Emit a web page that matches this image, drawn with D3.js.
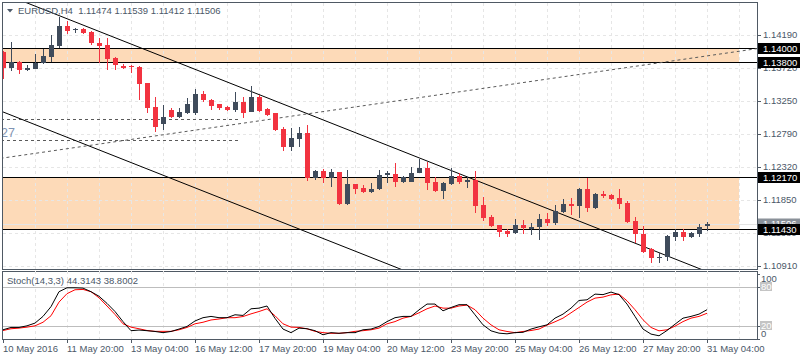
<!DOCTYPE html>
<html><head><meta charset="utf-8">
<script src="https://cdn.jsdelivr.net/npm/d3@7"></script>
<style>body{margin:0;background:#fff}svg{display:block;font-family:"Liberation Sans",Arial,sans-serif}</style>
</head><body><svg id="c" width="800" height="360"></svg>
<script>
// ---------- DATA ----------
const symbolTitle = "EURUSD,H4";
const lastOHLC = ["1.11474","1.11539","1.11412","1.11506"];
const opens  = [1.13949,1.13721,1.13807,1.13693,1.13707,1.13792,1.13878,1.14034,1.14318,1.14254,1.14275,1.14233,1.14076,1.14048,1.13863,1.13750,1.13743,1.13736,1.13508,1.13168,1.12926,1.13125,1.13026,1.13082,1.13082,1.13352,1.13267,1.13210,1.13168,1.13125,1.13239,1.13097,1.13310,1.13139,1.13082,1.12855,1.12600,1.12713,1.12798,1.12159,1.12259,1.12159,1.12245,1.11790,1.12074,1.12017,1.11961,1.12003,1.12202,1.12216,1.12103,1.12103,1.12230,1.12301,1.12103,1.11975,1.12074,1.12188,1.12103,1.12131,1.11776,1.11606,1.11492,1.11407,1.11378,1.11492,1.11442,1.11464,1.11577,1.11520,1.11677,1.11790,1.11762,1.12003,1.11733,1.11932,1.11918,1.11875,1.11804,1.11549,1.11364,1.11151,1.11023,1.11038,1.11322,1.11393,1.11322,1.11364,1.11474];
const highs  = [1.13963,1.14091,1.13821,1.13764,1.13920,1.13991,1.14190,1.14446,1.14389,1.14289,1.14289,1.14247,1.14147,1.14147,1.13878,1.13778,1.13764,1.13750,1.13508,1.13310,1.13196,1.13153,1.13153,1.13295,1.13423,1.13395,1.13281,1.13210,1.13182,1.13381,1.13310,1.13466,1.13338,1.13153,1.13082,1.12884,1.12869,1.12884,1.12912,1.12273,1.12287,1.12287,1.12245,1.12273,1.12074,1.12060,1.12088,1.12273,1.12259,1.12372,1.12188,1.12316,1.12429,1.12387,1.12174,1.12103,1.12301,1.12230,1.12174,1.12259,1.11890,1.11634,1.11492,1.11435,1.11577,1.11563,1.11520,1.11648,1.11662,1.11776,1.11861,1.11875,1.12017,1.12159,1.11946,1.11975,1.11932,1.12003,1.11833,1.11606,1.11478,1.11165,1.11094,1.11350,1.11435,1.11435,1.11393,1.11506,1.11539];
const lows   = [1.13565,1.13679,1.13636,1.13679,1.13707,1.13778,1.13807,1.14005,1.14204,1.14218,1.14204,1.14048,1.13792,1.13693,1.13693,1.13707,1.13650,1.13267,1.13082,1.12813,1.12841,1.13011,1.13011,1.13068,1.13054,1.13239,1.13125,1.13125,1.13111,1.13097,1.13011,1.13097,1.13097,1.13040,1.12827,1.12543,1.12543,1.12600,1.12117,1.12131,1.12088,1.12032,1.11776,1.11776,1.11932,1.11946,1.11946,1.11989,1.12088,1.12032,1.12088,1.12103,1.12230,1.11989,1.11961,1.11861,1.12060,1.12074,1.12017,1.11662,1.11549,1.11464,1.11322,1.11322,1.11364,1.11364,1.11350,1.11279,1.11478,1.11492,1.11662,1.11634,1.11591,1.11677,1.11719,1.11875,1.11847,1.11719,1.11520,1.11236,1.11094,1.10952,1.10952,1.10981,1.11265,1.11265,1.11307,1.11322,1.11412];
const closes = [1.13721,1.13807,1.13693,1.13721,1.13792,1.13892,1.14048,1.14318,1.14247,1.14268,1.14218,1.14076,1.14034,1.13849,1.13764,1.13721,1.13729,1.13494,1.13153,1.12884,1.13026,1.13026,1.13097,1.13210,1.13352,1.13267,1.13182,1.13153,1.13125,1.13239,1.13082,1.13310,1.13111,1.13054,1.12841,1.12600,1.12727,1.12798,1.12159,1.12259,1.12159,1.12245,1.11790,1.12074,1.12003,1.11961,1.12003,1.12202,1.12230,1.12103,1.12174,1.12230,1.12301,1.12088,1.11975,1.12088,1.12188,1.12103,1.12131,1.11762,1.11591,1.11478,1.11393,1.11364,1.11492,1.11449,1.11464,1.11577,1.11520,1.11691,1.11790,1.11762,1.12003,1.11733,1.11932,1.11904,1.11861,1.11790,1.11535,1.11364,1.11109,1.11023,1.11038,1.11336,1.11393,1.11322,1.11378,1.11464,1.11506];

const stochK = [13.4,17,17,19.5,23.7,34,49,72,78,78,77.5,72,65,54,41.5,26,12,13,12,10.8,9,10.8,14.5,18.5,27,32,34,32,32,36.5,35.5,45.7,46.7,50,31,14.5,9,16,15,12,5.7,9,8,9,9,13.4,14.5,18.5,26,32,34,34,44,53,53,42.6,47.7,52,52,36.5,21,11.8,8.2,7.2,9,9.5,14.5,18,21,31.3,37.5,46.7,58.5,59.5,68.3,67.5,71.4,67.5,53,34,14.5,6.8,4.2,12.3,22,31.3,34,37.5,44.3143];
const stochD = [12.3,15,16,17.5,19.5,25,35,56,69,75,75.5,72,62.6,50,37,22.6,17.5,15,12.3,11,11,11,13.4,17,22.6,25,28.5,30,32,32,33.8,37.9,41.5,45.7,35,22.6,17.5,17,15,11,9,8,8,9,11,12,13.4,16,22.6,26,31.3,34,39.5,45.7,50,46.7,46.7,50,51.4,44.3,31.3,21,13.4,10.8,9,10.8,12.3,14.5,20.6,25.7,31.3,39.5,47.7,56,62.1,63.7,67.2,68.3,58,44.3,28.8,17,11.8,13.4,19,26,31.3,34,38.8002];
const stochTitle = "Stoch(14,3,3) 44.3143 38.8002";
const stochLevels = [80, 20];
const stochAxisLabels = ["100","80","20","0"];
const stochAxisValues = [100, 80, 20, 0];

const timeLabels = ["10 May 2016","11 May 20:00","13 May 04:00","16 May 12:00","17 May 20:00","19 May 04:00","20 May 12:00","23 May 20:00","25 May 04:00","26 May 12:00","27 May 20:00","31 May 04:00"];
const timeLabelBars = [0,8,16,24,32,40,48,56,64,72,80,88];

const priceTicks = [1.14190,1.13721,1.13253,1.12784,1.12316,1.11847,1.11379,1.10910];
const priceTickLabels = ["1.14190","1.13720","1.13250","1.12790","1.12320","1.11850","1.11380","1.10910"];

const hLevels = [1.14000, 1.13800, 1.12170, 1.11430];
const hLevelLabels = ["1.14000","1.13800","1.12170","1.11430"];
const zoneTop = [1.14000, 1.12170];
const zoneBottom = [1.13800, 1.11430];
const zoneEndBar = 92;
const bidPrice = 1.11506;
const bidLabel = "1.11506";
// trend lines: [bar, price] pairs
const trendUpper = [[10, 1.14331], [80, 1.11189]];
const trendLower = [[0, 1.13097], [40, 1.11301]];
const trendRise  = [[0, 1.12443], [80, 1.13761]];
const dashLevels = [1.12997, 1.12699];
const dashEndBar = 29.6;
const sideText = "27";
const sideTextPrice = 1.12801;

// ---------- LAYOUT ----------
const svg = d3.select("#c");
const L = 3, R = 757, T = 3, B = 269, ST = 271, SB = 339;
const x = d3.scaleLinear().domain([0, 94.25]).range([L, R]);
const y = d3.scaleLinear().domain([1.10867, 1.14644]).range([B, T]);
const ys = d3.scaleLinear().domain([0, 100]).range([338.5, 273.5]);
const textCol = "#4b5868", bull = "#3f4b5b", bear = "#f23340";
const fs = "9.5px";

const defs = svg.append("defs");
defs.append("clipPath").attr("id","cm").append("rect").attr("x",L).attr("y",T).attr("width",R-L).attr("height",B-T);
defs.append("clipPath").attr("id","cs").append("rect").attr("x",L).attr("y",ST).attr("width",R-L).attr("height",SB-ST);

const main = svg.append("g").attr("clip-path","url(#cm)");
// zones
main.selectAll(".zone").data(zoneTop).enter().append("rect")
  .attr("x", L-10).attr("width", x(zoneEndBar)-(L-10))
  .attr("y", d => y(d)).attr("height", (d,i) => y(zoneBottom[i]) - y(d))
  .attr("fill", "#fddab8");
// grid
const gridBars = d3.range(4, 93, 4);
main.selectAll(".vg").data(gridBars).enter().append("line")
  .attr("x1", d => Math.round(x(d))+0.5).attr("x2", d => Math.round(x(d))+0.5)
  .attr("y1", T).attr("y2", B).attr("stroke", "#e6e6e6").attr("stroke-dasharray","3,3");
main.selectAll(".hg").data(priceTicks).enter().append("line")
  .attr("x1", L).attr("x2", R)
  .attr("y1", d => Math.round(y(d))+0.5).attr("y2", d => Math.round(y(d))+0.5)
  .attr("stroke", "#e6e6e6").attr("stroke-dasharray","3,3");
// bid line
main.append("line").attr("x1",L).attr("x2",R)
  .attr("y1", Math.round(y(bidPrice))+0.5).attr("y2", Math.round(y(bidPrice))+0.5)
  .attr("stroke","#e4e4e4");
// horizontal levels
main.selectAll(".hl").data(hLevels).enter().append("line")
  .attr("x1", L).attr("x2", R)
  .attr("y1", d => Math.round(y(d))+0.5).attr("y2", d => Math.round(y(d))+0.5)
  .attr("stroke", "#000");
// dashed horizontal segments
main.selectAll(".dh").data(dashLevels).enter().append("line")
  .attr("x1", L-20).attr("x2", x(dashEndBar))
  .attr("y1", d => Math.round(y(d))+0.5).attr("y2", d => Math.round(y(d))+0.5)
  .attr("stroke", "#5a5a5a").attr("stroke-dasharray","3,3");
// trend lines
function ext(pts){
  const [a,b] = pts; const x1=x(a[0]), y1=y(a[1]), x2=x(b[0]), y2=y(b[1]);
  const s=(y2-y1)/(x2-x1); const xa=L-50, xb=R+50;
  return [xa, y1+s*(xa-x1), xb, y1+s*(xb-x1)];
}
[[trendUpper,null],[trendLower,null],[trendRise,"3,3"]].forEach(([pts,dash]) => {
  const e = ext(pts);
  main.append("line").attr("x1",e[0]).attr("y1",e[1]).attr("x2",e[2]).attr("y2",e[3])
    .attr("stroke", dash ? "#5a5a5a" : "#000").attr("stroke-width",1)
    .attr("stroke-dasharray", dash);
});
// candles
const idx = d3.range(opens.length);
const cg = main.append("g").attr("shape-rendering","crispEdges");
cg.selectAll(".w").data(idx).enter().append("rect")
  .attr("x", i => Math.round(x(i))).attr("width", 1)
  .attr("y", i => Math.round(y(highs[i])))
  .attr("height", i => Math.max(1, Math.round(y(lows[i])) - Math.round(y(highs[i]))))
  .attr("fill", i => closes[i] >= opens[i] ? bull : bear);
cg.selectAll(".b").data(idx).enter().append("rect")
  .attr("x", i => Math.round(x(i))-2).attr("width", 5)
  .attr("y", i => Math.round(y(Math.max(opens[i],closes[i]))))
  .attr("height", i => Math.max(1, Math.round(y(Math.min(opens[i],closes[i]))) - Math.round(y(Math.max(opens[i],closes[i])))))
  .attr("fill", i => closes[i] >= opens[i] ? bull : bear);

// side text
main.append("text").attr("x", 1).attr("y", y(sideTextPrice)).attr("dy","0.35em")
  .attr("font-size","12.5px").attr("fill","#7f93b3").text(sideText);

// title
svg.append("path").attr("d","M7,9 L13,9 L10,12.5 Z").attr("fill", textCol);
svg.append("text").attr("x",18).attr("y",10.5).attr("dy","0.35em").attr("font-size",fs)
  .attr("fill",textCol).style("white-space","pre")
  .text(symbolTitle + "  " + lastOHLC.join(" "));

// borders
svg.append("rect").attr("x",L+0.5-1).attr("y",T-0.5).attr("width",R-L+1).attr("height",B-T+1)
  .attr("fill","none").attr("stroke","#4f5964");
svg.append("rect").attr("x",L+0.5-1).attr("y",ST+0.5).attr("width",R-L+1).attr("height",SB-ST)
  .attr("fill","none").attr("stroke","#4f5964");

// right price axis
const ax = svg.append("g").attr("font-size",fs);
ax.selectAll(".pt").data(priceTicks).enter().append("line")
  .attr("x1",R).attr("x2",R+4).attr("y1",d=>Math.round(y(d))+0.5).attr("y2",d=>Math.round(y(d))+0.5)
  .attr("stroke","#4f5964");
ax.selectAll(".pl").data(priceTicks).enter().append("text")
  .attr("x",763).attr("y",d=>y(d)).attr("dy","0.35em").attr("fill",textCol)
  .text((d,i)=>priceTickLabels[i]);
// bid box
ax.append("rect").attr("x",758).attr("y",y(bidPrice)-5.5).attr("width",42).attr("height",11).attr("fill","#8a9199");
ax.append("text").attr("x",763).attr("y",y(bidPrice)).attr("dy","0.35em").attr("fill","#fff").text(bidLabel);
// level boxes
ax.selectAll(".lb").data(hLevels).enter().append("rect")
  .attr("x",758).attr("y",d=>Math.round(y(d))-5).attr("width",42).attr("height",11).attr("fill","#000");
ax.selectAll(".lt").data(hLevels).enter().append("text")
  .attr("x",763).attr("y",d=>Math.round(y(d))+0.5).attr("dy","0.35em").attr("fill","#fff")
  .text((d,i)=>hLevelLabels[i]);

// ---------- STOCH PANEL ----------
const sp = svg.append("g").attr("clip-path","url(#cs)");
sp.selectAll(".svg").data(gridBars).enter().append("line")
  .attr("x1", d => Math.round(x(d))+0.5).attr("x2", d => Math.round(x(d))+0.5)
  .attr("y1", ST).attr("y2", SB).attr("stroke", "#e6e6e6").attr("stroke-dasharray","3,3");
sp.selectAll(".sl").data(stochLevels).enter().append("line")
  .attr("x1",L).attr("x2",R).attr("y1",d=>Math.round(ys(d))+0.5).attr("y2",d=>Math.round(ys(d))+0.5)
  .attr("stroke","#bdbdbd");
const sline = d3.line().x((d,i)=>x(i)).y(d=>ys(d));
sp.append("path").datum(stochD).attr("d",sline).attr("fill","none").attr("stroke","#ff0000").attr("stroke-width",1);
sp.append("path").datum(stochK).attr("d",sline).attr("fill","none").attr("stroke","#000").attr("stroke-width",1);
svg.append("text").attr("x",7).attr("y",280.5).attr("dy","0.35em").attr("font-size",fs)
  .attr("fill",textCol).text(stochTitle);

// stoch axis labels
const sa = svg.append("g").attr("font-size",fs);
const sLabelY = [278.5, ys(80), ys(20), 333.5];
stochAxisValues.forEach((v,i) => {
  const boxed = stochLevels.includes(v);
  if (boxed) sa.append("rect").attr("x",760).attr("y",sLabelY[i]-4.5).attr("width",12).attr("height",9).attr("fill","#c4c4c4");
  sa.append("text").attr("x", 761).attr("y", sLabelY[i]).attr("dy","0.35em")
    .attr("fill", boxed ? "#fff" : textCol).text(stochAxisLabels[i]);
  sa.append("line").attr("x1",R).attr("x2",R+3).attr("y1",Math.round(ys(v))+0.5).attr("y2",Math.round(ys(v))+0.5).attr("stroke","#4f5964");
});

// x axis
const xa = svg.append("g").attr("font-size",fs);
xa.selectAll(".xt").data(timeLabelBars).enter().append("line")
  .attr("x1",d=>Math.round(x(d))+0.5).attr("x2",d=>Math.round(x(d))+0.5).attr("y1",SB).attr("y2",SB+4)
  .attr("stroke","#4f5964");
xa.selectAll(".xl").data(timeLabelBars).enter().append("text")
  .attr("x",d=>x(d)).attr("y",348.5).attr("dy","0.35em").attr("fill",textCol)
  .text((d,i)=>timeLabels[i]);
</script></body></html>
